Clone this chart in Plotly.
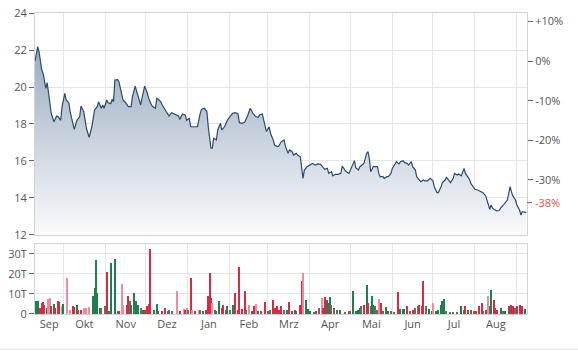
import plotly.graph_objects as go
import pandas as pd

START = "2014-09-10"

# closing prices: day offset from START, price
price_days = [0, 2, 3, 5, 6, 8, 9, 11, 12, 14, 16, 17, 19, 20, 22, 23, 25, 26, 28, 29, 31, 33, 34, 36, 38, 40, 42, 44, 46, 47,
              49, 50, 51, 53, 54, 56, 57, 58, 59, 61, 62, 64, 65, 67, 69, 71, 72, 74, 75, 77, 78, 80, 81, 83, 84, 86, 87, 89, 90, 91,
              93, 94, 96, 98, 99, 101, 103, 106, 107, 109, 111, 112, 114, 115, 117, 119, 120, 122, 123, 125, 127, 128, 130, 131, 132, 134, 135, 137, 138, 140,
              142, 144, 146, 148, 150, 151, 153, 155, 157, 159, 161, 163, 165, 166, 168, 169, 170, 171, 173, 174, 176, 177, 179, 180, 182, 184, 185, 187, 188, 190,
              191, 193, 194, 196, 198, 199, 201, 203, 205, 207, 209, 211, 213, 214, 216, 217, 219, 220, 222, 224, 226, 227, 229, 230, 232, 234, 236, 237, 239, 240,
              242, 243, 245, 246, 247, 248, 250, 251, 253, 254, 255, 257, 258, 260, 261, 263, 264, 266, 267, 269, 270, 272, 273, 275, 276, 278, 279, 281, 282, 284,
              285, 287, 288, 290, 292, 294, 295, 297, 298, 300, 301, 303, 304, 306, 307, 309, 310, 312, 313, 315, 316, 317, 318, 320, 321, 322, 324, 325, 327, 328,
              330, 331, 333, 334, 335, 336, 337, 338, 340, 341, 343, 344, 346, 347, 349, 350, 351, 352, 353, 355, 356, 358, 359, 360, 362, 363]
price = [21.4, 22.18, 21.9, 20.92, 20.74, 19.93, 20.23, 19.3, 18.58, 18.12, 18.43, 18.4, 18.2, 18.94, 19.66, 19.3, 19.15, 18.66, 18.12, 17.71, 18.2, 18.39, 18.97, 18.66, 17.77, 17.28, 17.85, 18.76, 18.94, 19.2,
         18.85, 19.03, 18.85, 19.3, 19.15, 19.1, 19.34, 19.2, 20.38, 20.4, 20.29, 19.66, 19.3, 19.15, 18.94, 18.94, 19.48, 20.05, 19.75, 19.3, 19.03, 19.84, 20.05, 19.66, 19.39, 19.03, 18.94, 18.85, 19.39, 19.34,
         19.2, 19.03, 18.76, 18.49, 18.43, 18.61, 18.54, 18.43, 18.25, 18.54, 18.49, 18.2, 18.3, 17.85, 17.85, 17.85, 17.85, 18.54, 18.79, 18.85, 18.67, 17.85, 16.69, 16.69, 17.23, 17.14, 17.68, 18.04, 17.68, 17.85,
         18.18, 18.4, 18.58, 18.61, 18.54, 18.07, 18.04, 18.11, 18.43, 18.85, 18.58, 18.4, 18.36, 18.5, 18.54, 18.2, 17.89, 17.59, 17.85, 17.5, 17.14, 16.86, 16.78, 16.8, 17.05, 17.14, 16.8, 16.41, 16.6, 16.5,
         16.32, 16.41, 16.32, 16.23, 15.06, 15.51, 15.69, 15.78, 15.87, 15.78, 15.84, 15.82, 15.6, 15.55, 15.6, 15.33, 15.42, 15.2, 15.28, 15.28, 15.33, 15.73, 15.51, 15.42, 15.33, 15.69, 16.02, 15.64, 15.51, 15.69,
         15.78, 15.87, 16.41, 16.5, 16.14, 15.42, 15.7, 15.69, 15.7, 15.33, 15.15, 15.17, 15.06, 15.15, 15.15, 15.33, 15.6, 15.84, 15.96, 15.84, 15.96, 16.02, 15.91, 15.87, 15.78, 15.96, 15.69, 15.51, 15.15, 14.97,
         14.88, 14.97, 14.93, 14.93, 15.06, 14.93, 14.61, 14.29, 14.29, 14.61, 14.83, 14.97, 15.12, 14.93, 14.83, 15.06, 15.33, 15.24, 15.3, 15.2, 15.42, 15.6, 15.33, 15.15, 15.01, 14.79, 14.58, 14.47, 14.43, 14.4,
         14.34, 14.29, 14.11, 13.89, 13.62, 13.39, 13.62, 13.45, 13.35, 13.3, 13.32, 13.45, 13.62, 13.71, 13.89, 14.25, 14.61, 14.34, 14.11, 13.89, 13.62, 13.35, 13.08, 13.26, 13.21, 13.21]

# volume (thousands): day offset, value, kind (g=up, r=down, p=light down, k=neutral)
vol_days = [1, 2, 4, 5, 6, 7, 9, 10, 11, 12, 14, 15, 17, 18, 20, 21, 24, 26, 28, 29, 31, 32, 34, 36, 38, 40, 43, 44, 45, 46,
            48, 49, 52, 53, 55, 56, 59, 61, 62, 64, 65, 68, 69, 70, 71, 73, 74, 75, 76, 78, 80, 81, 83, 84, 85, 88, 90, 91, 94, 96,
            98, 99, 101, 105, 107, 110, 111, 112, 113, 115, 116, 118, 121, 122, 124, 126, 128, 129, 130, 131, 133, 134, 136, 138, 139, 141, 142, 144, 146, 147,
            148, 150, 151, 153, 155, 156, 158, 160, 162, 163, 165, 167, 170, 172, 174, 176, 177, 179, 180, 182, 184, 186, 188, 190, 192, 193, 196, 197, 198, 200,
            202, 203, 206, 208, 210, 212, 213, 214, 216, 217, 218, 219, 221, 223, 225, 229, 232, 233, 235, 237, 239, 240, 241, 243, 245, 246, 248, 249, 250, 251,
            253, 254, 256, 257, 259, 261, 263, 265, 268, 270, 272, 273, 275, 277, 279, 281, 283, 284, 286, 287, 289, 291, 293, 294, 296, 298, 300, 301, 302, 304,
            307, 309, 312, 315, 317, 318, 320, 322, 324, 326, 328, 330, 331, 333, 335, 336, 337, 339, 340, 341, 344, 346, 347, 350, 351, 352, 353, 355, 356, 358,
            360, 362]
volume = [6.3, 6.7, 3.0, 5.5, 5.8, 4.7, 3.0, 7.5, 8.0, 3.8, 5.0, 3.0, 6.7, 5.8, 3.8, 5.0, 18.0, 2.2, 3.8, 3.3, 4.7, 2.2, 2.2, 3.0, 3.0, 3.3, 8.8, 13.0, 27.2, 10.5,
          3.0, 3.0, 3.8, 21.0, 1.3, 25.5, 27.7, 1.7, 1.7, 15.2, 4.7, 4.7, 8.8, 6.3, 4.7, 10.5, 2.2, 6.3, 4.7, 3.0, 2.2, 2.2, 3.8, 5.0, 32.7, 2.2, 5.2, 1.7, 1.3, 3.0,
          1.7, 1.8, 1.7, 11.3, 1.3, 2.5, 2.2, 3.0, 2.2, 18.0, 2.2, 1.7, 2.2, 1.8, 1.7, 2.2, 8.8, 20.5, 8.0, 5.5, 2.2, 1.3, 6.7, 3.0, 4.7, 2.2, 3.8, 1.8, 4.7, 4.7,
          10.5, 2.2, 23.3, 2.5, 11.3, 2.2, 4.7, 1.7, 3.8, 5.0, 1.7, 1.7, 5.8, 1.7, 2.2, 7.2, 3.0, 3.8, 2.2, 3.8, 2.2, 2.2, 5.8, 1.3, 2.2, 1.3, 4.7, 16.3, 20.5, 7.2,
          2.5, 1.7, 0.8, 1.3, 3.0, 8.0, 3.0, 8.3, 7.2, 5.5, 8.5, 4.7, 3.0, 2.2, 2.2, 0.8, 1.3, 1.3, 11.3, 1.3, 2.2, 3.0, 3.8, 4.7, 14.3, 5.5, 3.8, 8.8, 4.7, 3.8,
          2.2, 7.5, 5.5, 1.7, 3.3, 1.7, 1.3, 0.8, 11.0, 2.5, 2.5, 2.5, 3.8, 1.7, 2.2, 3.0, 3.8, 4.7, 3.8, 16.3, 3.8, 2.5, 1.7, 5.5, 1.7, 2.2, 4.7, 6.7, 7.5, 1.7,
          0.8, 0.8, 0.8, 4.2, 2.2, 3.8, 2.2, 2.2, 1.3, 1.7, 3.8, 5.5, 1.7, 2.2, 8.8, 3.8, 12.2, 7.2, 3.0, 2.2, 3.0, 1.3, 1.7, 4.2, 3.8, 4.7, 3.8, 3.0, 4.2, 4.7,
          3.8, 2.5]
vol_kind = list(
    "ggrrrrgppr" "grrrpgpprr" "grrpppgggg"
    "gkkrkggrrp" "prrkggkggk" "grrrrgggrr"
    "kkkprprpkr" "prpkgrrrrp" "kggrrkgkgg"
    "rrrrrkpgrp" "grrkkrrrrr" "kgrrrgrrpg"
    "ggkrkprrgr" "gkkkgkrkgg" "ggkrgrkggk"
    "kprkggkkrg" "ggrkrkkrkr" "kgkpgggggk"
    "kkkgkrgrkr" "rrkrpkgrrr" "gkggrrrkrr"
    "rg")

months = ["Sep", "Okt", "Nov", "Dez", "Jan", "Feb", "Mrz", "Apr", "Mai", "Jun", "Jul", "Aug"]

start = pd.Timestamp(START)
dates = [start + pd.Timedelta(days=d) for d in price_days]
vdates = [start + pd.Timedelta(days=d) for d in vol_days]
kind_color = {"g": "#1e7f4e", "r": "#d92a45", "p": "#ec8c9e", "k": "#6e6a62"}
vcolors = [kind_color[k] for k in vol_kind]

x0 = dates[0]
x1 = dates[-1] + pd.Timedelta(hours=12)
ref = price[0]
ymin, ymax = 12, 24
pct_lo = (ymin / ref - 1) * 100
pct_hi = (ymax / ref - 1) * 100
last_pct = (price[-1] / ref - 1) * 100

# month starts (grid) and month label positions (middle of visible part)
mstarts = pd.date_range(x0.normalize() + pd.offsets.MonthBegin(1), x1, freq="MS")
label_pos = []
first_month = pd.Timestamp(x0.year, x0.month, 1)
for i, m in enumerate(months):
    a = max(first_month + pd.DateOffset(months=i), x0)
    b = min(first_month + pd.DateOffset(months=i + 1), x1)
    label_pos.append(a + (b - a) / 2)

GRID = "#e5e5e5"
LINE = "#d3d3d3"
TXT = "#555555"
FONT = "Open Sans"

fig = go.Figure()
fig.add_trace(go.Scatter(
    x=dates, y=price, mode="lines", line=dict(color="#2d4a6c", width=1.2),
    fill="tozeroy",
    fillgradient=dict(type="vertical", colorscale=[[0, "rgba(250,251,252,1)"], [1, "rgba(152,170,192,1)"]],
                      start=ymin, stop=22.3),
    xaxis="x", yaxis="y", hoverinfo="skip", showlegend=False))
fig.add_trace(go.Scatter(x=[dates[0]], y=[0], yaxis="y3", xaxis="x", mode="markers",
                         marker=dict(opacity=0), showlegend=False, hoverinfo="skip"))
fig.add_trace(go.Bar(
    x=vdates, y=volume, marker=dict(color=vcolors, line=dict(width=0)),
    width=0.8 * 86400000, xaxis="x2", yaxis="y2", showlegend=False))

xcommon = dict(type="date", range=[x0, x1], showgrid=False, zeroline=False, automargin=False,
               tickmode="array", tickvals=label_pos, ticktext=months, ticks="",
               minor=dict(tickmode="array", tickvals=list(mstarts), showgrid=True, gridcolor=GRID, gridwidth=1, ticks=""),
               showline=True, mirror=True, linecolor=LINE, linewidth=1)

fig.update_layout(
    width=578, height=351,
    margin=dict(l=35, r=51, t=13, b=37, autoexpand=False),
    paper_bgcolor="white", plot_bgcolor="white",
    font=dict(family=FONT, size=11, color=TXT),
    bargap=0,
    xaxis=dict(**xcommon, domain=[0, 1], anchor="y", showticklabels=False),
    xaxis2=dict(**xcommon, domain=[0, 1], anchor="y2", matches="x", showticklabels=True,
                tickfont=dict(family=FONT, size=11, color=TXT)),
    yaxis=dict(domain=[0.2625, 1], range=[ymin, ymax], dtick=2, tick0=0, showgrid=True, gridcolor=GRID,
               zeroline=False, ticks="outside", ticklen=5, tickcolor="#666", showline=True, mirror=True,
               linecolor=LINE, tickfont=dict(size=11, color=TXT), automargin=False),
    yaxis3=dict(overlaying="y", side="right", anchor="x", range=[pct_lo, pct_hi], showgrid=False, zeroline=False,
                tickmode="array", tickvals=[10, 0, -10, -20, -30], ticktext=["+10%", "0%", "-10%", "-20%", "-30%"],
                ticks="outside", ticklen=5, tickcolor="#666", showline=False, tickfont=dict(size=11, color=TXT),
                automargin=False),
    yaxis2=dict(domain=[0, 0.2326], range=[0, 35], showgrid=True, gridcolor=GRID, zeroline=False,
                tickmode="array", tickvals=[0, 10, 20, 30], ticktext=["0", "10T", "20T", "30T"],
                ticks="outside", ticklen=5, tickcolor="#666", showline=True, mirror=True, linecolor=LINE,
                tickfont=dict(size=11, color=TXT), automargin=False),
)

# current value label on the right axis
fig.add_annotation(xref="paper", yref="y3", x=1, y=last_pct, xanchor="left", yanchor="middle",
                   xshift=6, yshift=10, text=f"{last_pct:.0f}%", showarrow=False,
                   font=dict(family=FONT, size=11, color="#d9534f"))
fig.add_shape(type="line", xref="paper", yref="y3", xsizemode="pixel", xanchor=1, x0=0, x1=5,
              ysizemode="pixel", yanchor=last_pct, y0=10, y1=10, line=dict(color="#666", width=1))
# bottom separator
fig.add_shape(type="line", xref="paper", yref="paper", x0=-35 / 492, x1=543 / 492, y0=-35 / 301, y1=-35 / 301,
              line=dict(color="#dddddd", width=1))

fig.write_html("out.html")
